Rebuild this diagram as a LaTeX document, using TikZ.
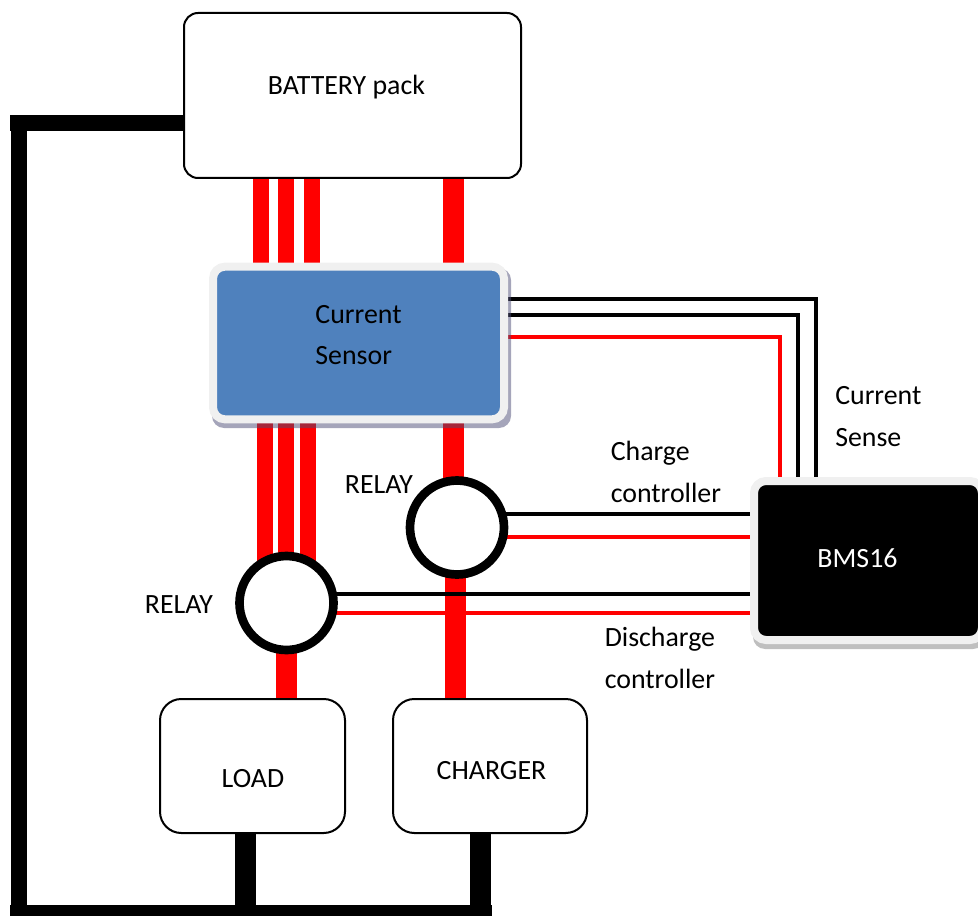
\documentclass[tikz,border=0pt]{standalone}
\usepackage{xcolor}
\usepackage{fontspec}
\setmainfont{Carlito}
\usetikzlibrary{backgrounds}
\definecolor{busred}{HTML}{ff0000}
\definecolor{sensorblue}{HTML}{4f81bd}
\definecolor{bevel}{HTML}{f0f0f0}
\tikzset{
  txt/.style={inner sep=0pt, font=\fontsize{20.9}{24}\selectfont},
  block/.style={draw=black, line width=1.5pt, fill=white, rounded corners=10.5pt, inner sep=0pt},
  bevelbox/.style={draw=bevel, line width=6pt, rounded corners=9pt, inner sep=0pt},
  shadowbox/.style={fill=#1, rounded corners=9pt, inner sep=0pt, fill opacity=.5},
  relay/.style={circle, draw=black, line width=6.5pt, fill=white, minimum size=70.5pt, inner sep=0pt},
  bus/.style={draw=busred, line width=12pt},
  widebus/.style={draw=busred, line width=15.75pt},
  gnd/.style={draw=black, line width=12pt},
  widegnd/.style={draw=black, line width=15.75pt},
  sigblack/.style={draw=black, line width=2.7pt},
  sigred/.style={draw=busred, line width=2.7pt},
}
\begin{document}
\begin{tikzpicture}[x=0.75pt, y=-0.75pt]%
\path[use as bounding box, clip] (0,0) rectangle (978,916);%
\node[block, minimum width=252.75pt, minimum height=123.75pt] (battery) at (352.5,95.5) {};%
\node[block, rounded corners=16pt, minimum width=138.75pt, minimum height=100.5pt] (load) at (252.5,766) {};%
\node[block, rounded corners=16pt, minimum width=145.5pt, minimum height=100.5pt] (charger) at (490,766) {};%
\node[shadowbox=black!60!blue!40!gray, minimum width=224.25pt, minimum height=120pt] (sensorshadow) at (361.5,348) {};%
\node[bevelbox, fill=sensorblue, minimum width=218.25pt, minimum height=114.5pt] (sensor) at (358.5,343) {};%
\node[shadowbox=gray, minimum width=174pt, minimum height=120pt] (bmsshadow) at (869,569) {};%
\node[bevelbox, fill=black, minimum width=171pt, minimum height=119.25pt] (bms) at (868,560.5) {};%
\node[relay] (relaya) at (457,527.5) {};%
\node[relay] (relayb) at (286.5,603) {};%
\node[txt] (batterylabel) at (346.5,87.5) {BATTERY pack};%
\node[txt, align=left, font=\fontsize{20.9}{30.75}\selectfont] (sensorlabel) at (358.5,335.5) {Current\\Sensor};%
\node[txt, text=white] (bmslabel) at (857.5,558) {BMS16};%
\node[txt] (loadlabel) at (253,779) {LOAD};%
\node[txt] (chargerlabel) at (491.5,771) {CHARGER};%
\node[txt] (relayalabel) at (379,485) {RELAY};%
\node[txt] (relayblabel) at (179,605) {RELAY};%
\node[txt, align=left, font=\fontsize{20.9}{31.5}\selectfont, anchor=west] (chargelabel) at (610.5,471.5) {Charge\\controller};%
\node[txt, align=left, font=\fontsize{20.9}{31.5}\selectfont, anchor=west] (dischargelabel) at (604.5,657.5) {Discharge\\controller};%
\node[txt, align=left, font=\fontsize{20.9}{31.5}\selectfont, anchor=west] (senselabel) at (835,417) {Current\\Sense};%
\coordinate (busa) at (261,0);%
\coordinate (busb) at (286,0);%
\coordinate (busc) at (312,0);%
\coordinate (busd) at (453.5,0);%
\coordinate (lowa) at (265,0);%
\coordinate (lowc) at (308,0);%
\coordinate (stema) at (286,0);%
\coordinate (stemb) at (455.5,0);%
\coordinate (sensea) at (816,299);%
\coordinate (senseb) at (798,315);%
\coordinate (sensec) at (780,337);%
\coordinate (ctla) at (0,514);%
\coordinate (ctlb) at (0,537);%
\coordinate (ctlc) at (0,594);%
\coordinate (ctld) at (0,613);%
\coordinate (gnda) at (10,123);%
\coordinate (gndb) at (19,123);%
\coordinate (gndc) at (19,913);%
\coordinate (gndd) at (10,913);%
\coordinate (gnde) at (492,913);%
\coordinate (gndf) at (245.5,913);%
\coordinate (gndg) at (480.5,913);%
\begin{scope}[on background layer]
\draw[bus] (busa |- battery.south) -- (busa |- sensor.north);%
\draw[bus] (busb |- battery.south) -- (busb |- sensor.north);%
\draw[bus] (busc |- battery.south) -- (busc |- sensor.north);%
\draw[widebus] (busd |- battery.south) -- (busd |- sensor.north);%
\draw[bus] (lowa |- sensor.south) -- (lowa |- relayb.center);%
\draw[bus] (busb |- sensor.south) -- (busb |- relayb.center);%
\draw[bus] (lowc |- sensor.south) -- (lowc |- relayb.center);%
\draw[widebus] (busd |- sensor.south) -- (busd |- relaya.center);%
\draw[widebus] (stema |- relayb.center) -- (stema |- load.north);%
\draw[widebus] (stemb |- relaya.center) -- (stemb |- charger.north);%
\draw[sigblack] (sensor.east |- sensea) -| (sensea |- bms.north);%
\draw[sigblack] (sensor.east |- senseb) -| (senseb |- bms.north);%
\draw[sigred] (sensor.east |- sensec) -| (sensec |- bms.north);%
\draw[sigblack] (relaya.center |- ctla) -- (bms.west |- ctla);%
\draw[sigred] (relaya.center |- ctlb) -- (bms.west |- ctlb);%
\draw[sigred] (relayb.center |- ctld) -- (bms.west |- ctld);%
\draw[sigblack] (relayb.center |- ctlc) -- (bms.west |- ctlc);%
\draw[gnd] (gnda) -- (battery.west |- gnda);%
\draw[gnd] (gndb) -- (gndc);%
\draw[gnd] (gndd) -- (gnde);%
\draw[widegnd] (gndf |- load.south) -- (gndf);%
\draw[widegnd] (gndg |- charger.south) -- (gndg);%
\end{scope}
\end{tikzpicture}
\end{document}
